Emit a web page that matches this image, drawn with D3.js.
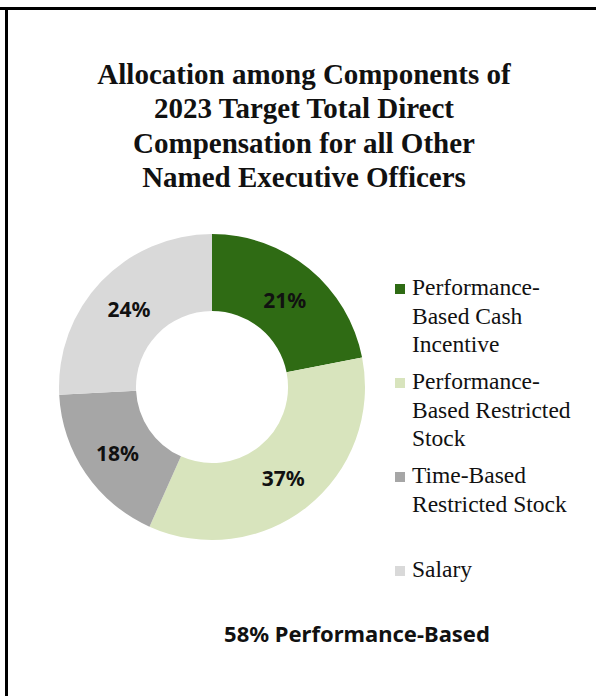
<!DOCTYPE html>
<html>
<head>
<meta charset="utf-8">
<script src="https://cdn.jsdelivr.net/npm/d3@7"></script>
<style>
  body { margin: 0; background: #fff; }
  svg { display: block; }
</style>
</head>
<body>
<div id="chart"></div>
<script>
// data
var categories = ['Performance-Based Cash Incentive', 'Performance-Based Restricted Stock', 'Time-Based Restricted Stock', 'Salary'];
var legendLines = [['Performance-', 'Based Cash', 'Incentive'], ['Performance-', 'Based Restricted', 'Stock'], ['Time-Based', 'Restricted Stock'], ['Salary']];
// slice sizes as drawn (measured from the ring) and the labels printed on them
var shares = [21.9, 34.8, 17.5, 25.8];
var pctLabels = ['21%', '37%', '18%', '24%'];
var colors = ['#2f6b14', '#d8e4bd', '#a6a6a6', '#d9d9d9'];
var titleLines = ['Allocation among Components of', '2023 Target Total Direct', 'Compensation for all Other', 'Named Executive Officers'];
var footnote = '58% Performance-Based';

var width = 596;
var height = 696;

var svg = d3.select('#chart')
    .append('svg')
    .attr('width', width)
    .attr('height', height);

// frame (top and left edges only are visible)
svg.append('line')
    .attr('x1', 0).attr('x2', width)
    .attr('y1', 8.5).attr('y2', 8.5)
    .attr('stroke', '#000').attr('stroke-width', 3);
svg.append('line')
    .attr('x1', 6.5).attr('x2', 6.5)
    .attr('y1', 7).attr('y2', height)
    .attr('stroke', '#000').attr('stroke-width', 3);

// title
svg.append('g')
    .selectAll('text')
    .data(titleLines)
    .enter()
    .append('text')
    .attr('x', 304)
    .attr('y', function (d, i) { return 84 + i * 34.3; })
    .attr('text-anchor', 'middle')
    .style('font-family', '"Liberation Serif", "Times New Roman", serif')
    .style('font-weight', 'bold')
    .style('font-size', '29px')
    .style('fill', '#111')
    .text(function (d) { return d; });

var color = d3.scaleOrdinal()
    .domain(categories)
    .range(colors);

var pie = d3.pie()
    .value(function (d) { return d.value; })
    .sort(null);

var dataset = categories.map(function (c, i) {
    return { label: c, value: shares[i], text: pctLabels[i] };
});

var outerR = 153;
var innerR = 76;

var arc = d3.arc()
    .innerRadius(innerR)
    .outerRadius(outerR);

var donut = svg.append('g')
    .attr('transform', 'translate(212,387)');

donut.selectAll('path')
    .data(pie(dataset))
    .enter()
    .append('path')
    .attr('d', arc)
    .attr('fill', function (d) { return color(d.data.label); });

donut.selectAll('.pct')
    .data(pie(dataset))
    .enter()
    .append('text')
    .attr('class', 'pct')
    .attr('transform', function (d) {
        var c = arc.centroid(d);
        return 'translate(' + c[0] + ',' + (c[1] + 9) + ')';
    })
    .attr('text-anchor', 'middle')
    .style('font-family', '"Noto Sans", "Open Sans", sans-serif')
    .style('font-weight', 'bold')
    .style('font-size', '21px')
    .style('fill', '#111')
    .text(function (d) { return d.data.text; });

// legend
var legend = svg.selectAll('.legend')
    .data(categories)
    .enter()
    .append('g')
    .attr('class', 'legend')
    .attr('transform', function (d, i) {
        return 'translate(395,' + (295 + i * 94) + ')';
    });

legend.append('rect')
    .attr('x', 0)
    .attr('y', -11)
    .attr('width', 10)
    .attr('height', 10)
    .style('fill', color);

legend.append('text')
    .style('font-family', '"Liberation Serif", "Times New Roman", serif')
    .style('font-size', '23.5px')
    .style('fill', '#111')
    .selectAll('tspan')
    .data(function (d, i) { return legendLines[i]; })
    .enter()
    .append('tspan')
    .attr('x', 17)
    .attr('y', function (d, j) { return j * 28.5; })
    .text(function (d) { return d; });

// footnote
svg.append('text')
    .attr('x', 357)
    .attr('y', 642)
    .attr('text-anchor', 'middle')
    .style('font-family', '"Noto Sans", "Open Sans", sans-serif')
    .style('font-weight', 'bold')
    .style('font-size', '22px')
    .style('fill', '#111')
    .text(footnote);
</script>
</body>
</html>
